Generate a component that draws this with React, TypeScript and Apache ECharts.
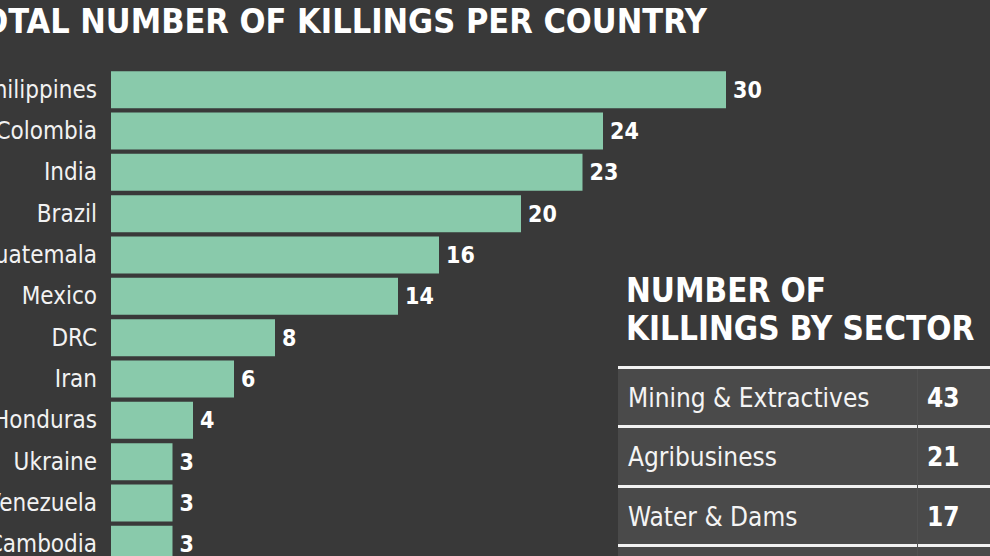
import React, { useEffect, useRef } from "react";
import * as echarts from "echarts";

const countries = ["Philippines", "Colombia", "India", "Brazil", "Guatemala", "Mexico", "DRC", "Iran", "Honduras", "Ukraine", "Venezuela", "Cambodia"];
const killings = [30, 24, 23, 20, 16, 14, 8, 6, 4, 3, 3, 3];
const sectors = ["Mining & Extractives", "Agribusiness", "Water & Dams"];
const sectorKillings = [43, 21, 17];

const FONT = '"Liberation Sans Narrow", "DejaVu Sans Condensed", "Open Sans", sans-serif';
const BG = "#393939";
const BAR = "#89caab";

export default function App() {
  const ref = useRef<HTMLDivElement>(null);
  useEffect(() => {
    if (!ref.current) return;
    const chart = echarts.init(ref.current, null, { renderer: "svg" });
    const rowTops = [369, 428, 488];
    const graphic: any[] = [
      {
        type: "text",
        right: 990 - 707,
        top: 4,
        style: { text: "TOTAL NUMBER OF KILLINGS PER COUNTRY", fill: "#ffffff", font: `bold 34px ${FONT}` },
      },
      {
        type: "text",
        x: 626,
        y: 290,
        style: { text: "NUMBER OF", fill: "#ffffff", font: `bold 33px ${FONT}`, verticalAlign: "middle" },
      },
      {
        type: "text",
        x: 626,
        y: 328,
        style: { text: "KILLINGS BY SECTOR", fill: "#ffffff", font: `bold 33px ${FONT}`, verticalAlign: "middle" },
      },
    ];
    [369, 428, 488, 547].forEach((y, i) => {
      graphic.push({
        type: "rect",
        shape: { x: 618, y, width: 372, height: i === 3 ? 20 : 57 },
        style: { fill: "#4a4a4a" },
        silent: true,
      });
    });
    [367, 426, 486, 545].forEach((y) => {
      graphic.push({
        type: "rect",
        shape: { x: 618, y: y - 1, width: 372, height: 3 },
        style: { fill: "#f2f2f2" },
        silent: true,
      });
    });
    graphic.push({
      type: "rect",
      shape: { x: 917, y: 369, width: 1, height: 187 },
      style: { fill: "#515151" },
      silent: true,
    });
    sectors.forEach((s, i) => {
      const cy = rowTops[i] + 29;
      graphic.push({
        type: "text",
        x: 628,
        y: cy,
        style: { text: s, fill: "#f4f4f4", font: `26px ${FONT}`, verticalAlign: "middle", align: "left" },
      });
      graphic.push({
        type: "text",
        x: 927,
        y: cy,
        style: { text: String(sectorKillings[i]), fill: "#ffffff", font: `bold 26px ${FONT}`, verticalAlign: "middle", align: "left" },
      });
    });

    chart.setOption({
      animation: false,
      backgroundColor: BG,
      grid: { left: 111, top: 69, width: 615, height: 496, containLabel: false, outerBoundsMode: "none" },
      xAxis: { type: "value", min: 0, max: 30, show: false },
      yAxis: {
        type: "category",
        data: countries,
        inverse: true,
        axisLine: { show: false },
        axisTick: { show: false },
        axisLabel: { color: "#f2f2f2", fontSize: 24, fontFamily: FONT, margin: 14 },
      },
      series: [
        {
          type: "bar",
          data: killings,
          barWidth: 37,
          itemStyle: { color: BAR },
          label: {
            show: true,
            position: "right",
            distance: 7,
            color: "#ffffff",
            fontSize: 23,
            fontWeight: "bold",
            fontFamily: FONT,
          },
        },
      ],
      graphic,
    });
    return () => chart.dispose();
  }, []);
  return <div ref={ref} style={{ position: "fixed", left: 0, top: 0, width: 990, height: 556 }} />;
}
